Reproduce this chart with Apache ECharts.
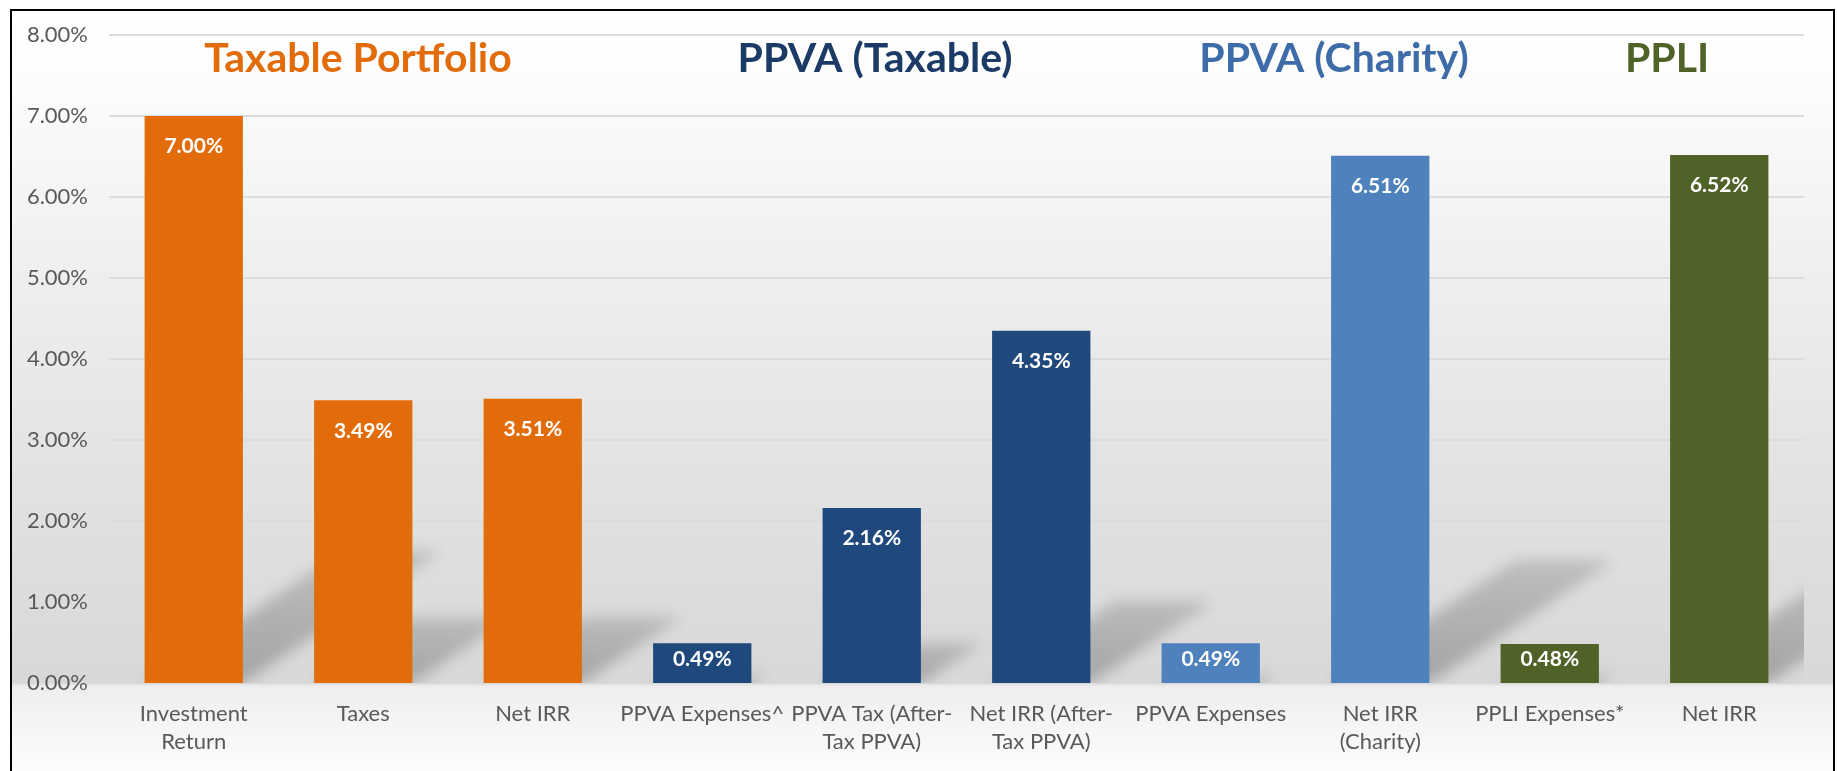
<!DOCTYPE html>
<html>
<head>
<meta charset="utf-8">
<title>Net IRR comparison</title>
<script src="https://cdn.jsdelivr.net/npm/echarts@6/dist/echarts.min.js"></script>
<style>
    html, body { margin: 0; padding: 0; background: #fff; overflow: hidden; }
    #frame {
        position: absolute;
        left: 10px;
        top: 9px;
        width: 1821px;
        height: 780px;
        border: 2px solid #000;
        background: linear-gradient(to bottom, #ffffff 0%, #fdfdfd 8%, #eeeeee 35%, #e2e2e2 60%, #d8d8d8 86.1%, #eeeeee 86.6%, #f7f7f7 93%, #ffffff 100%);
    }
    #main { width: 1821px; height: 780px; }
</style>
</head>
<body>
<div id="frame"><div id="main"></div></div>
<script>
var categories = ['Investment\nReturn', 'Taxes', 'Net IRR', 'PPVA Expenses^', 'PPVA Tax (After-\nTax PPVA)',
    'Net IRR (After-\nTax PPVA)', 'PPVA Expenses', 'Net IRR\n(Charity)', 'PPLI Expenses*', 'Net IRR']
var values = [7.00, 3.49, 3.51, 0.49, 2.16, 4.35, 0.49, 6.51, 0.48, 6.52]
// which group each bar belongs to
var groupOf = [0, 0, 0, 1, 1, 1, 2, 2, 3, 3]
var groupNames = ['Taxable Portfolio', 'PPVA (Taxable)', 'PPVA (Charity)', 'PPLI']
var barColors = ['#E36C0A', '#1F497D', '#4F81BD', '#4F6228']
var titleColors = ['#E36C0A', '#1B3A66', '#3D6CA8', '#4F6228']
var titleX = [346, 863, 1322, 1655]

var myChart = echarts.init(document.getElementById('main'))

var barData = values.map(function (v, i) {
    return {
        value: v,
        itemStyle: { color: barColors[groupOf[i]] },
        label: { distance: v < 1 ? 5 : 20 }
    }
})

var shadowFill = new echarts.graphic.LinearGradient(0, 1, 0, 0, [
    { offset: 0, color: 'rgba(0,0,0,1)' },
    { offset: 1, color: 'rgba(0,0,0,0.6)' }
])
var OFF = 4000

// slanted floor shadow behind each bar, drawn only as a blurred canvas shadow
function renderShadow(params, api) {
    var base = api.coord([api.value(0), 0])
    var top = api.coord([api.value(0), api.value(1)])
    var bw = api.size([1, 0])[0] * 0.58
    var dy = (base[1] - top[1]) * 0.233
    var dx = dy * 1.5
    var x0 = base[0] - bw / 2 - OFF, x1 = base[0] + bw / 2 - OFF, y0 = base[1]
    return {
        type: 'polygon',
        shape: { points: [[x0, y0], [x1, y0], [x1 + dx, y0 - dy], [x0 + dx, y0 - dy]] },
        style: {
            fill: shadowFill,
            shadowBlur: 14,
            shadowOffsetX: OFF,
            shadowColor: 'rgba(0,0,0,0.24)'
        }
    }
}

var titles = groupNames.map(function (name, i) {
    return {
        type: 'text',
        x: titleX[i],
        y: 48,
        style: {
            text: name,
            fill: titleColors[i],
            font: 'bold 41px Lato',
            textAlign: 'center',
            textVerticalAlign: 'middle'
        }
    }
})

option = {
    backgroundColor: 'transparent',
    textStyle: { fontFamily: 'Lato' },
    grid: { left: 97, right: 29, top: 24, bottom: 108 },
    graphic: titles,
    xAxis: {
        type: 'category',
        data: categories,
        axisTick: { show: false },
        axisLine: { lineStyle: { color: '#d9d9d9', width: 2 } },
        axisLabel: {
            interval: 0,
            color: '#595959',
            fontSize: 22,
            lineHeight: 28,
            margin: 17
        }
    },
    yAxis: {
        type: 'value',
        min: 0,
        max: 8,
        interval: 1,
        axisLine: { show: false },
        axisTick: { show: false },
        splitLine: { lineStyle: { color: '#dcdcdc', width: 2 } },
        axisLabel: {
            color: '#595959',
            fontSize: 22,
            margin: 21,
            formatter: function (v) { return v.toFixed(2) + '%' }
        }
    },
    series: [
        {
            type: 'custom',
            z: 1,
            clip: true,
            silent: true,
            renderItem: renderShadow,
            data: values.map(function (v, i) { return [i, v] })
        },
        {
            type: 'bar',
            z: 3,
            barWidth: '58%',
            data: barData,
            label: {
                show: true,
                position: 'insideTop',
                color: '#fff',
                fontWeight: 'bold',
                fontSize: 21,
                formatter: function (p) { return p.value.toFixed(2) + '%' }
            }
        }
    ]
};

myChart.setOption(option);
</script>
</body>
</html>
